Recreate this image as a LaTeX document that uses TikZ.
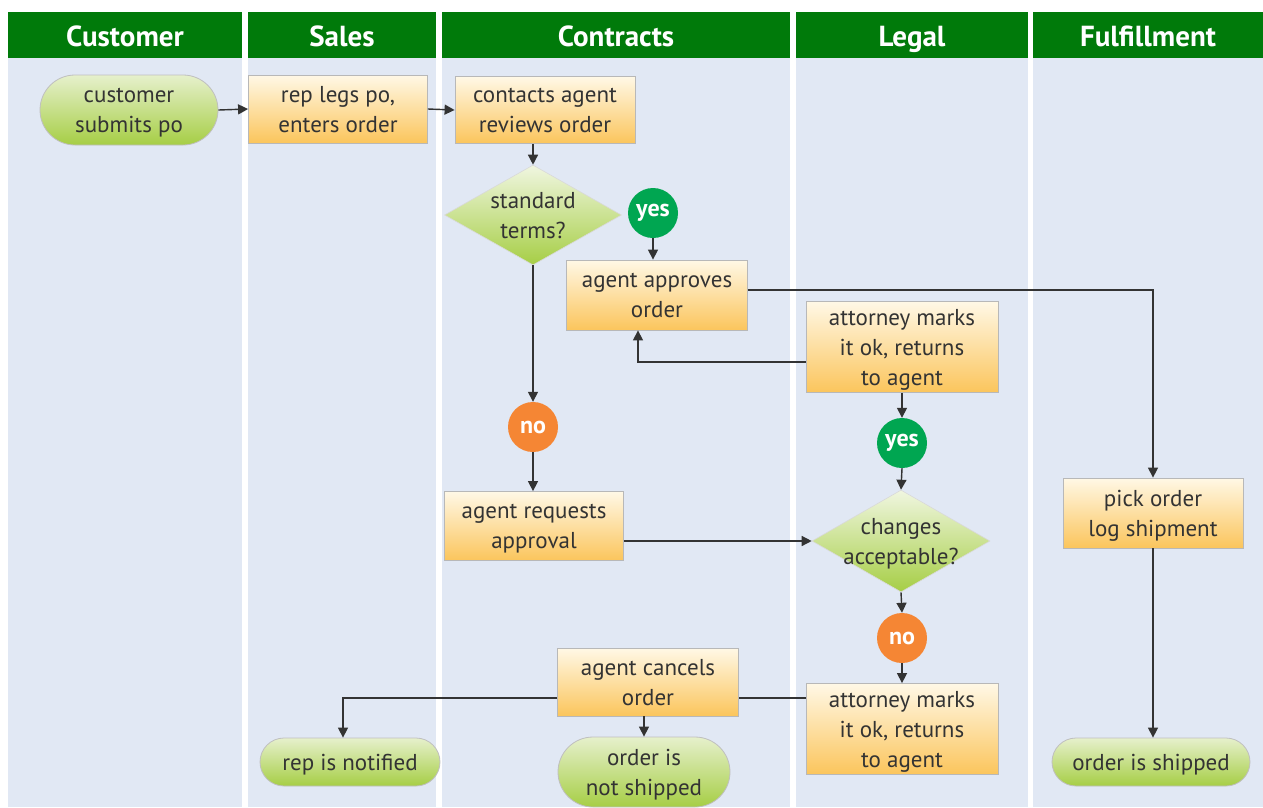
\documentclass[tikz,border=0pt]{standalone}
\usepackage{fontspec}
\setmainfont{PT Sans}
\usetikzlibrary{arrows.meta,shapes.geometric,shapes.misc,calc}
\definecolor{hdr}{HTML}{007A0A}
\definecolor{lanebg}{HTML}{E1E8F4}
\definecolor{ink}{HTML}{333333}
\definecolor{boxtop}{HTML}{FFF8E6}
\definecolor{boxbot}{HTML}{FBC55C}
\definecolor{pilltop}{HTML}{E6F0CC}
\definecolor{pillbot}{HTML}{A6CE45}
\definecolor{yesc}{HTML}{00A651}
\definecolor{noc}{HTML}{F58634}
\tikzset{
  lane/.style={fill=lanebg,draw=none},
  hdrbox/.style={fill=hdr,draw=none,text=white,font=\bfseries\fontsize{29}{32}\selectfont,minimum height=46pt,inner sep=0pt,text height=24pt,text depth=2pt},
  txt/.style={text=ink,font=\fontsize{23}{30}\selectfont,align=center,inner sep=0pt,text depth=0pt},
  procbox/.style={txt,rectangle,top color=boxtop,bottom color=boxbot,draw=black!28,line width=0.8pt,minimum width=180pt,minimum height=68pt},
  pill/.style={txt,rounded rectangle,top color=pilltop,bottom color=pillbot,draw=black!25,line width=0.8pt,minimum height=70pt},
  decis/.style={diamond,top color=pilltop!60!white,bottom color=pillbot,draw=black!15,line width=0.6pt,minimum width=177pt,minimum height=100pt,inner sep=0pt},
  yesno/.style={circle,minimum size=50pt,inner sep=0pt,text=white,font=\bfseries\fontsize{24}{26}\selectfont},
  arr/.style={draw=ink,line width=1.4pt,-{Triangle[length=10pt,width=10pt]}},
  ln/.style={draw=ink,line width=1.4pt}
}
\begin{document}
\begin{tikzpicture}[x=1pt,y=-1pt]
\useasboundingbox (0,0) rectangle (1263,807);
\fill[white] (0,0) rectangle (1263,807);
% lanes
\fill[lane] (8,58) rectangle (242,807);
\fill[lane] (248,58) rectangle (436,807);
\fill[lane] (442,58) rectangle (790,807);
\fill[lane] (796,58) rectangle (1028,807);
\fill[lane] (1033,58) rectangle (1263,807);
\node[hdrbox,minimum width=234pt] (h1) at (125,35) {Customer};
\node[hdrbox,minimum width=188pt] (h2) at (342,35) {Sales};
\node[hdrbox,minimum width=348pt] (h3) at (616,35) {Contracts};
\node[hdrbox,minimum width=232pt] (h4) at (912,35) {Legal};
\node[hdrbox,minimum width=230pt] (h5) at (1148,35) {Fulfillment};
% nodes
\node[pill,minimum width=178pt] (cs) at (129,110) {customer\\submits po};
\node[procbox,minimum width=179pt] (rl) at (338,109) {rep legs po,\\enters order};
\node[procbox,minimum width=180pt,minimum height=67pt] (ca) at (545,110) {contacts agent\\reviews order};
\node[decis] (st) at (533,215) {};
\node[txt] (stl) at (st) {standard\\terms?};
\node[yesno,fill=yesc] (y1) at (653,213) {yes};
\node[procbox,minimum width=181pt,minimum height=70pt] (aa) at (657,295) {agent approves\\order};
\node[procbox,minimum width=192pt,minimum height=91pt] (at1) at (902,347) {attorney marks\\it ok, returns\\to agent};
\node[yesno,fill=yesc] (y2) at (902,443) {yes};
\node[yesno,fill=noc] (n1) at (533,427) {no};
\node[procbox,minimum width=179pt,minimum height=69pt] (ar) at (534,526) {agent requests\\approval};
\node[decis,minimum width=178pt,minimum height=102pt] (ch) at (901,541) {};
\node[txt] (chl) at (ch) {changes\\acceptable?};
\node[procbox,minimum width=180pt,minimum height=70pt] (pk) at (1153,513) {pick order\\log shipment};
\node[yesno,fill=noc] (n2) at (902,638) {no};
\node[procbox,minimum width=192pt,minimum height=91pt] (at2) at (902,729) {attorney marks\\it ok, returns\\to agent};
\node[procbox,minimum width=181pt,minimum height=68pt] (ac) at (648,682) {agent cancels\\order};
\node[pill,minimum width=172pt] (ons) at (644,772) {order is\\not shipped};
\node[pill,minimum width=180pt,minimum height=48pt] (rn) at (350,762) {rep is notified};
\node[pill,minimum width=198pt,minimum height=48pt] (os) at (1151,762) {order is shipped};
% connectors
\draw[arr] (cs.east) -- (rl.west);
\draw[arr] (rl.east) -- (ca.west);
\draw[arr] (ca.south -| st.north) -- (st.north);
\draw[arr] (y1.south) -- (y1.south |- aa.north);
\draw[arr] (st.south) -- (n1.north);
\draw[arr] (n1.south) -- (n1.south |- ar.north);
\draw[arr] ([yshift=5pt]aa.east) -| (pk.north);
\draw[arr] ([yshift=-15pt]at1.west) -| ([xshift=-19pt]aa.south);
\draw[arr] (at1.south) -- (y2.north);
\draw[arr] (y2.south) -- (ch.north);
\draw[arr] (ar.east |- ch.west) -- (ch.west);
\draw[arr] (ch.south) -- (n2.north);
\draw[arr] (n2.south) -- (at2.north);
\coordinate (L) at ([yshift=31pt]at2.west);
\draw[ln] (L) -- (L -| ac.east);
\draw[arr] (L -| ac.west) -| ([xshift=-7pt]rn.north);
\draw[arr] (ac.south -| ons.north) -- (ons.north);
\draw[arr] (pk.south) -- (pk.south |- os.north);
\end{tikzpicture}
\end{document}
